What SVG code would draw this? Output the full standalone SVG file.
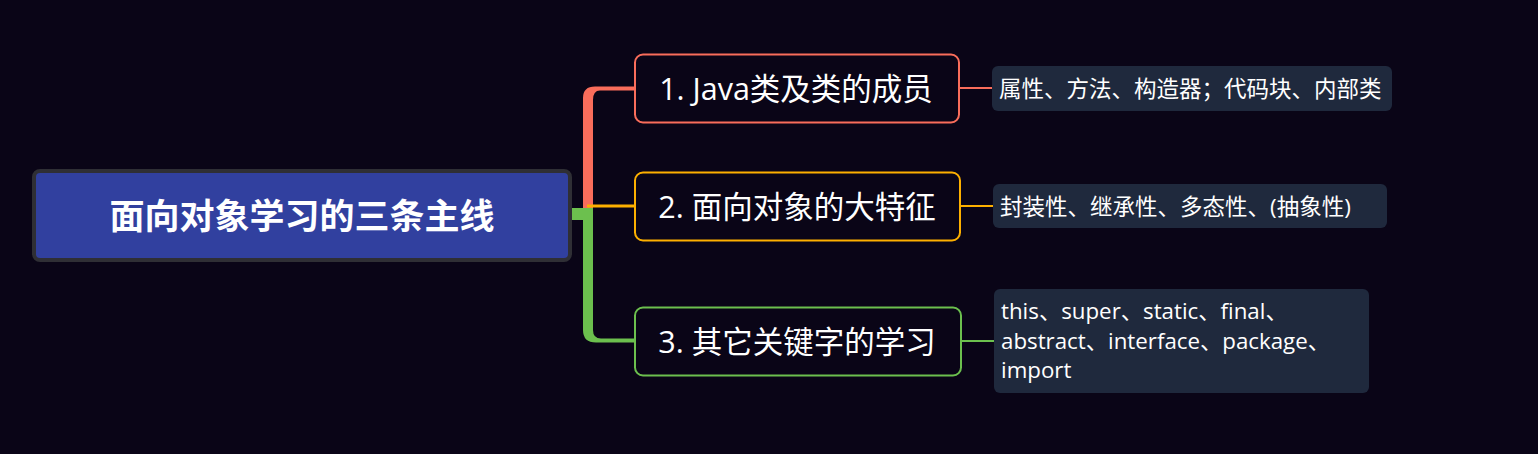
<svg xmlns="http://www.w3.org/2000/svg" width="1538" height="454" viewBox="0 0 1538 454">
<style>
.t{font-family:"Open Sans","Noto Sans CJK SC",sans-serif;fill:#ffffff}
.main{font-size:30.5px}
.leaf{font-size:22.5px}
.leaf3{font-size:22.3px}
.lbox{fill:#1f293d}
</style>
<rect width="1538" height="454" fill="#0a0517"/>
<g id="connectors">
  <path d="M583 212 L583 98 Q583 86.5 595 86.5 L636 86.5 L636 90.5 L600 90.5 Q593 90.5 593 100 L593 212 Z" fill="#f96d5b"/>
  <path d="M583 208 L583 330 Q583 342.5 596 342.5 L636 342.5 L636 338.5 L601 338.5 Q593 338.5 593 330 L593 208 Z" fill="#6cc04e"/>
  <rect x="572" y="208" width="21" height="12" fill="#6cc04e"/>
  <line x1="587" y1="206" x2="636" y2="206" stroke="#fdb000" stroke-width="3"/>
  <line x1="959" y1="88" x2="993" y2="88" stroke="#f96d5b" stroke-width="2"/>
  <line x1="960" y1="206" x2="994" y2="206" stroke="#fdb000" stroke-width="2"/>
  <line x1="962" y1="341" x2="995" y2="341" stroke="#6cc04e" stroke-width="2"/>
</g>
<g id="root">
  <rect x="34" y="171" width="536" height="89" rx="6" fill="#31409f" stroke="#2f2f35" stroke-width="4"/>
  <text class="t" x="302" y="229" text-anchor="middle" font-size="35" font-weight="bold" font-family="Noto Sans CJK SC, sans-serif">面向对象学习的三条主线</text>
</g>
<g id="n1">
  <rect x="635" y="54.5" width="324" height="68" rx="8" fill="#0a0517" stroke="#f96d5b" stroke-width="2"/>
  <text class="t main" x="796" y="99.5" text-anchor="middle">1. Java类及类的成员</text>
</g>
<g id="n2">
  <rect x="635" y="172.5" width="325" height="68" rx="8" fill="#0a0517" stroke="#fdb000" stroke-width="2"/>
  <text class="t main" x="797" y="217.5" text-anchor="middle">2. 面向对象的大特征</text>
</g>
<g id="n3">
  <rect x="635" y="307.5" width="326" height="68" rx="8" fill="#0a0517" stroke="#6cc04e" stroke-width="2"/>
  <text class="t main" x="797" y="352.5" text-anchor="middle">3. 其它关键字的学习</text>
</g>
<g id="l1">
  <rect class="lbox" x="992" y="66" width="400" height="45" rx="6"/>
  <text class="t leaf" x="999" y="97">属性、方法、构造器；代码块、内部类</text>
</g>
<g id="l2">
  <rect class="lbox" x="993" y="184" width="394" height="44" rx="6"/>
  <text class="t leaf" x="1000" y="214.5">封装性、继承性、多态性、(抽象性)</text>
</g>
<g id="l3">
  <rect class="lbox" x="994" y="289" width="375" height="104" rx="6"/>
  <text class="t leaf3" x="1001" y="319">this、super、static、final、</text>
  <text class="t leaf3" x="1001" y="348.5">abstract、interface、package、</text>
  <text class="t leaf3" x="1001" y="378">import</text>
</g>
</svg>
